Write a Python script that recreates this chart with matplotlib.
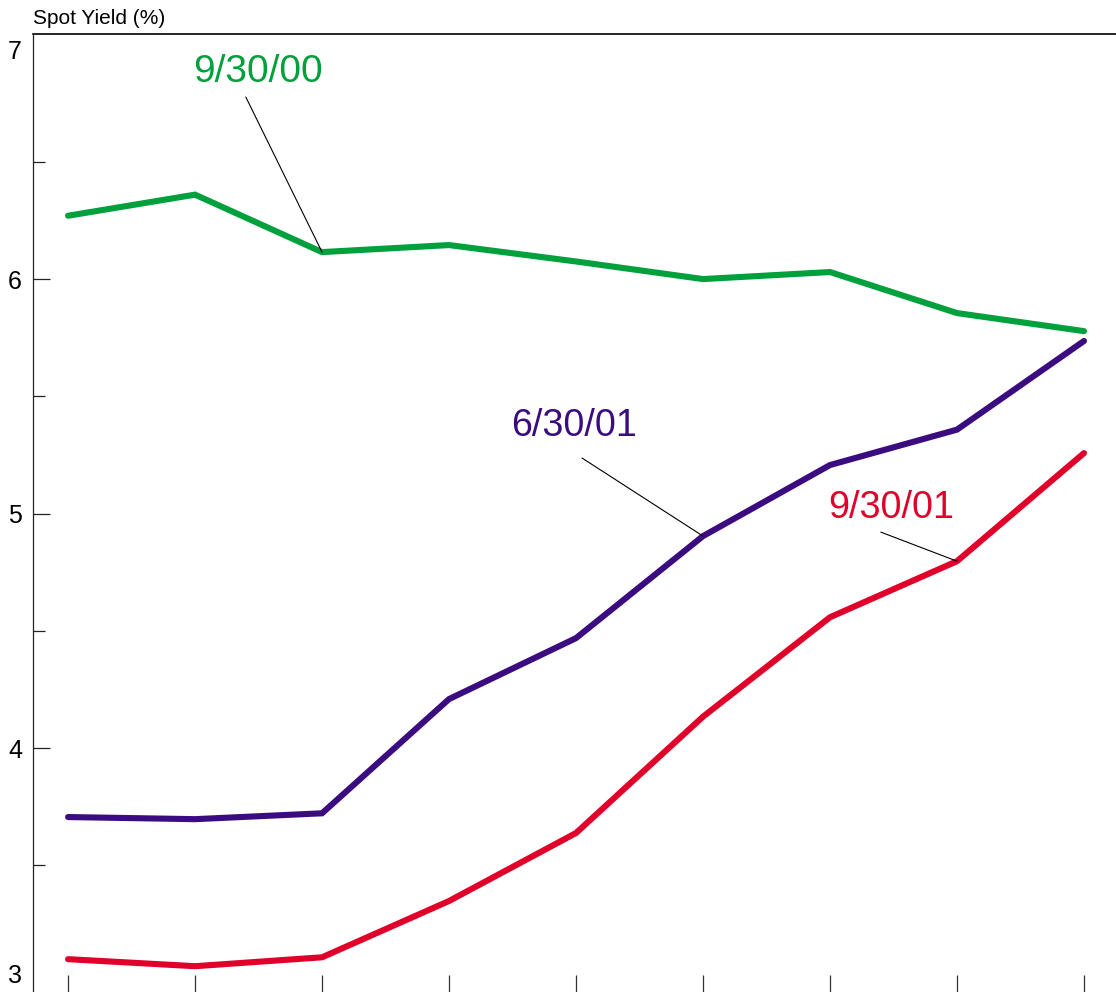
import matplotlib
matplotlib.use("Agg")
import matplotlib.pyplot as plt
from matplotlib.ticker import MultipleLocator
import matplotlib.transforms as mtransforms

plt.rcParams['font.family'] = ['Liberation Sans', 'DejaVu Sans']

# Data
maturities = list(range(9))  # tick positions along the curve (equally spaced)
yield_093000 = [6.27, 6.36, 6.115, 6.145, 6.075, 6.00, 6.03, 5.855, 5.778]
yield_063001 = [3.706, 3.697, 3.722, 4.209, 4.469, 4.904, 5.207, 5.358, 5.736]
yield_093001 = [3.100, 3.070, 3.108, 3.348, 3.638, 4.134, 4.558, 4.797, 5.258]
series_labels = ["9/30/00", "6/30/01", "9/30/01"]
series_colors = ["#00A03C", "#3B0C80", "#E0002A"]

W, H = 1116, 992
fig = plt.figure(figsize=(W / 100, H / 100), dpi=100)
ax = fig.add_axes([33 / W, 0, (W - 33) / W, (H - 34) / H])

for ys, c in zip([yield_093000, yield_063001, yield_093001], series_colors):
    ax.plot(maturities, ys, color=c, lw=4.4, solid_capstyle='round',
            solid_joinstyle='miter', zorder=3)

ax.set_xlim(-0.276, 8.252)
ax.set_ylim(2.96, 7.045)

ax.yaxis.set_major_locator(MultipleLocator(1))
ax.yaxis.set_minor_locator(MultipleLocator(0.5))
ax.set_xticks(maturities)
ax.set_xticklabels([])

ax.tick_params(axis='y', which='major', direction='in', length=12.2, width=0.9,
               labelsize=18, pad=8, color='#222222')
ax.tick_params(axis='y', which='minor', direction='in', length=8.6, width=0.9,
               color='#222222')
ax.tick_params(axis='x', which='major', direction='in', length=12.2, width=0.9,
               color='#333333')

for side in ['right', 'bottom']:
    ax.spines[side].set_visible(False)
ax.spines['left'].set_linewidth(0.9)
ax.spines['left'].set_color('#222222')
ax.spines['top'].set_linewidth(1.2)

fig.canvas.draw()
for tick in ax.yaxis.get_major_ticks():
    loc = tick.get_loc()
    if abs(loc - 3) < 1e-6:
        tick.tick1line.set_visible(False)
        tick.label1.set_va('baseline')
    if abs(loc - 7) < 1e-6:
        tick.tick1line.set_visible(False)
        tick.label1.set_transform(tick.label1.get_transform() +
                                  mtransforms.ScaledTranslation(0, -4.5 / 100, fig.dpi_scale_trans))

fig.text(33 / W, 1 - 18 / H, "Spot Yield (%)", fontsize=15, ha='left', va='center')

# Annotations: (label text position, leader start, target index)
label_pos = [(1.496, 6.883), (3.984, 5.373), (6.48, 5.024)]
leader_start = [(1.40, 6.776), (4.047, 5.237), (6.40, 4.921)]
target_idx = [2, 5, 7]
all_series = [yield_093000, yield_063001, yield_093001]
label_sizes = [28, 27.2, 27.2]

for lab, c, pos, ls, ti, ys, fs in zip(series_labels, series_colors, label_pos,
                                       leader_start, target_idx, all_series, label_sizes):
    ax.text(pos[0], pos[1], lab, color=c, fontsize=fs, ha='center', va='center')
    ax.annotate('', xy=(maturities[ti], ys[ti]), xytext=ls,
                arrowprops=dict(arrowstyle='-', lw=0.8, color='black',
                                shrinkA=0, shrinkB=0), zorder=4)

fig.savefig("out.png", dpi=100)
